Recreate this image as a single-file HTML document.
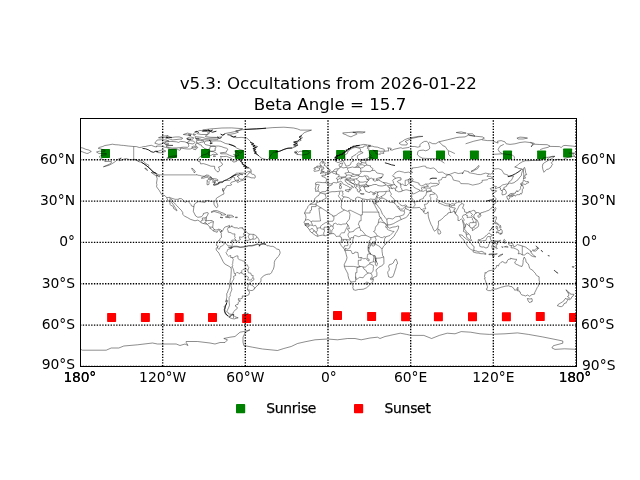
<!DOCTYPE html>
<html lang="en"><head><meta charset="utf-8"><title>v5.3: Occultations from 2026-01-22</title>
<style>html,body{margin:0;padding:0;background:#fff;}body{width:640px;height:480px;overflow:hidden;}svg{display:block;will-change:transform;}text{font-family:"DejaVu Sans","Liberation Sans",sans-serif;fill:#000;}.t{font-size:16.67px;text-anchor:middle;}.l{font-size:13.89px;}.e{letter-spacing:-0.3px;}.g{letter-spacing:-0.25px;stroke:#000;stroke-width:0.25px;}</style></head><body>
<svg width="640" height="480" viewBox="0 0 640 480">
<rect x="0" y="0" width="640" height="480" fill="#fff"/>
<defs><clipPath id="ax"><rect x="80" y="118.4" width="496" height="248"/></clipPath></defs>
<g clip-path="url(#ax)">
<rect x="101.00" y="148.90" width="9.00" height="9.00" rx="0.7" fill="#008000"/>
<rect x="168.00" y="149.00" width="9.00" height="9.00" rx="0.7" fill="#008000"/>
<rect x="201.00" y="149.00" width="9.00" height="9.00" rx="0.7" fill="#008000"/>
<rect x="235.00" y="150.00" width="9.00" height="9.00" rx="0.7" fill="#008000"/>
<rect x="268.90" y="150.00" width="9.00" height="9.00" rx="0.7" fill="#008000"/>
<rect x="302.10" y="150.00" width="9.00" height="9.00" rx="0.7" fill="#008000"/>
<rect x="336.10" y="150.00" width="9.00" height="9.00" rx="0.7" fill="#008000"/>
<rect x="369.00" y="150.00" width="9.00" height="9.00" rx="0.7" fill="#008000"/>
<rect x="403.00" y="150.50" width="9.00" height="9.00" rx="0.7" fill="#008000"/>
<rect x="436.00" y="150.50" width="9.00" height="9.00" rx="0.7" fill="#008000"/>
<rect x="469.90" y="150.50" width="9.00" height="9.00" rx="0.7" fill="#008000"/>
<rect x="503.00" y="150.50" width="9.00" height="9.00" rx="0.7" fill="#008000"/>
<rect x="537.10" y="150.50" width="9.00" height="9.00" rx="0.7" fill="#008000"/>
<rect x="563.10" y="148.50" width="9.00" height="9.00" rx="0.7" fill="#008000"/>
<rect x="107.10" y="313.00" width="9.00" height="9.00" rx="0.7" fill="#ff0000"/>
<rect x="140.90" y="313.00" width="9.00" height="9.00" rx="0.7" fill="#ff0000"/>
<rect x="174.70" y="313.00" width="9.00" height="9.00" rx="0.7" fill="#ff0000"/>
<rect x="208.00" y="313.00" width="9.00" height="9.00" rx="0.7" fill="#ff0000"/>
<rect x="242.10" y="314.00" width="9.00" height="9.00" rx="0.7" fill="#ff0000"/>
<rect x="333.00" y="311.00" width="9.00" height="9.00" rx="0.7" fill="#ff0000"/>
<rect x="367.10" y="311.90" width="9.00" height="9.00" rx="0.7" fill="#ff0000"/>
<rect x="401.10" y="312.20" width="9.00" height="9.00" rx="0.7" fill="#ff0000"/>
<rect x="433.90" y="312.20" width="9.00" height="9.00" rx="0.7" fill="#ff0000"/>
<rect x="468.00" y="312.20" width="9.00" height="9.00" rx="0.7" fill="#ff0000"/>
<rect x="501.90" y="312.20" width="9.00" height="9.00" rx="0.7" fill="#ff0000"/>
<rect x="535.80" y="312.00" width="9.00" height="9.00" rx="0.7" fill="#ff0000"/>
<rect x="569.00" y="312.90" width="9.00" height="9.00" rx="0.7" fill="#ff0000"/>
</g>
<g clip-path="url(#ax)" fill="none" stroke="#000" stroke-linejoin="round"><path stroke-width="0.42" d="M309.8 204.3L316.1 204.3L316.1 206.6L311.5 206.6L311.5 210.1L310.1 210.7L310.1 213.0L304.6 213.0M316.1 204.3L316.1 202.9L321.1 201.1L323.0 199.8L326.3 198.2L325.7 196.2L325.0 194.0M316.1 204.8L321.4 208.0L329.7 213.3L329.7 213.9L332.4 215.1L332.5 216.2L333.9 216.0L336.0 215.5L338.3 213.6L344.5 210.0L341.8 208.6L341.1 206.2L341.6 205.2L341.4 203.5L341.6 200.7L341.1 200.8L340.4 198.3L339.4 197.6L338.3 195.8L339.3 194.6L339.4 192.8L339.8 191.6M341.1 200.8L342.2 199.8L342.2 198.7L343.8 197.5L343.8 196.7M362.7 198.9L362.0 200.8L362.4 202.2L362.4 212.1L362.4 214.8L361.1 214.8L361.1 215.5L350.0 210.1L348.7 210.7L347.6 211.3L344.5 210.0M362.4 212.1L378.8 212.1M361.1 215.5L361.1 220.8L359.6 220.9L358.3 224.5L359.0 224.9L359.6 226.7L359.6 227.4L360.7 230.0L360.4 230.4L361.3 230.4L362.9 231.7L365.8 235.4L368.0 236.3L370.6 237.6L372.1 237.4L374.8 236.6L377.5 236.1M377.5 236.1L376.6 234.8L375.8 233.2L373.5 231.5L375.0 230.6L375.3 227.8L376.2 225.9L377.7 224.9L378.3 222.7L379.0 219.0L381.2 217.6M378.3 222.7L380.2 221.9L381.7 222.3L384.2 223.0L386.4 225.2L387.4 224.9M386.4 225.2L385.6 226.6L385.6 227.2L387.1 227.3L387.6 226.6M387.1 227.3L387.2 229.2L388.6 230.0L392.8 231.4L394.1 231.4L390.0 235.5L385.9 236.8L385.7 237.0L384.2 236.6L382.4 237.7L380.5 237.4L378.8 236.3L377.5 236.1M385.7 237.0L384.5 239.0L384.5 243.6L385.2 244.7M374.8 236.6L375.5 238.1L376.2 239.8L375.5 240.9L374.8 242.0L374.7 243.8L379.8 246.5L379.9 247.2L382.0 248.8M370.6 237.6L371.1 239.4L369.3 240.7L368.8 243.1L368.8 244.3L370.0 243.8L374.7 243.8M368.8 244.3L368.2 246.0L368.0 246.1L368.4 248.5M370.0 243.8L370.5 245.6L369.9 246.9L369.1 248.5M368.0 246.1L370.0 245.7L370.5 245.6M370.7 254.2L373.3 255.4L374.8 255.5M375.7 258.3L377.3 258.2L380.2 258.0L383.7 256.9M375.7 258.3L375.5 261.0L377.5 262.9L377.3 264.4L376.6 266.0L375.3 264.9L375.5 262.4L373.7 261.7L373.3 261.0L373.5 259.6L373.9 257.6L373.3 255.4M373.7 261.7L369.6 262.8L369.9 263.9L371.1 264.4L373.3 265.4L373.5 266.5L373.2 268.6L373.3 270.0L372.6 271.7L371.1 273.3L372.1 275.5L372.0 278.1L370.7 277.9L370.4 279.3L371.1 280.0L372.2 279.3L372.0 278.1M372.2 279.3L373.3 279.4M371.1 273.3L368.5 273.0L366.6 272.2L366.2 270.6L364.1 269.3L362.9 266.9L365.2 267.2L367.7 265.1L369.9 263.9M368.5 273.0L365.2 274.9L363.1 277.8L359.7 277.3L356.5 279.5L355.6 276.6L355.6 272.7L356.9 272.7L356.9 267.6L360.2 266.6L361.8 266.5L362.9 266.9M344.3 266.2L347.3 266.4L353.5 266.4L357.5 267.1L360.2 266.6M350.7 281.8L352.0 281.9L355.6 281.5L355.6 276.6M365.2 283.2L366.6 282.1L368.4 282.5L368.2 283.7L366.9 284.6L365.6 284.1L365.2 283.2M360.2 266.6L358.3 264.7L358.3 260.3L361.1 260.3L361.1 257.4L358.6 257.8L358.0 252.5L354.9 252.0L354.2 253.4L352.2 253.6L350.9 250.5L345.9 250.5L344.9 250.8M344.8 250.3L345.9 248.7L345.4 248.5L344.5 249.3M361.1 257.4L362.9 258.4L363.8 258.8L365.5 258.4L367.1 259.6L368.0 260.9L369.1 260.9L369.1 259.1L367.1 258.7L367.4 255.5L367.8 254.1L370.4 253.8M345.4 248.5L347.8 249.2L349.8 247.9L350.3 245.4L352.4 243.1L352.9 239.4L353.6 237.6L353.6 236.3L354.9 235.4L358.9 236.8L361.6 235.4L365.8 235.4M343.3 247.8L344.3 247.2L344.5 245.7L345.9 245.7L347.8 245.6L348.0 244.2L347.2 242.4L348.0 241.2L346.3 240.6L346.2 239.4M341.5 241.0L343.6 241.0L343.6 239.4L346.2 239.4L350.2 240.1L350.3 239.4L350.9 237.6L353.6 237.6M341.5 239.2L343.6 239.4M350.3 239.4L348.7 237.0L348.0 235.2L348.1 233.9L349.4 232.1L347.3 228.8L349.5 228.6L348.7 226.6L348.5 225.6L348.1 224.9L347.4 224.4L347.6 225.3L347.0 227.2L345.8 229.4L344.3 232.8L342.6 232.8L341.5 233.0L340.1 234.4L339.8 235.8M347.4 224.4L346.7 223.5L345.8 223.9L342.7 224.1L341.1 224.8L338.7 224.1L337.5 224.5L335.6 223.2L333.6 223.8L333.0 226.3L333.4 228.6L331.9 230.0L331.7 233.6M346.7 223.5L346.6 222.6L349.4 219.1L350.0 214.3L348.7 210.7M349.4 232.1L351.1 231.9L353.6 231.4L354.3 230.0L357.9 227.8L359.6 227.4M333.9 216.0L333.9 219.1L333.0 221.2L329.8 221.3L328.3 221.9L328.7 223.5L330.6 224.9L331.3 226.0L333.0 226.3M331.3 226.0L329.4 227.2L329.2 227.2L329.1 228.1L330.2 230.0L330.2 233.9M329.2 227.2L327.8 227.1L324.1 227.2L324.1 229.3L324.6 231.1L323.6 233.0L324.1 235.4M328.0 227.2L328.6 228.6L328.7 230.7L328.8 232.8L329.7 234.0M328.3 221.9L325.2 222.8L323.2 224.2L321.9 224.9L320.7 226.1L320.4 228.1L321.7 229.0L324.1 229.3M320.4 228.1L319.5 227.8L317.0 228.3L317.4 230.8L316.3 231.9L316.4 233.6L317.8 234.4L317.7 236.3M316.3 231.9L315.0 232.2L314.9 230.8L313.8 230.7L313.3 231.8L312.2 232.9M313.8 230.7L313.4 229.9L312.6 228.6L310.9 228.8L309.7 230.0M317.0 228.3L316.6 227.2L315.6 225.3L313.3 225.9L312.3 225.3L309.1 224.9L309.1 226.3L307.3 227.2M309.1 224.9L305.0 225.4M312.3 225.3L312.3 224.5L311.2 222.0L309.4 220.1L308.0 219.5L305.3 220.2M304.9 223.7L307.3 223.4L309.0 223.8L307.3 224.2L304.9 224.4M311.2 222.0L312.0 221.0L314.9 221.2L320.4 221.0L320.7 219.9L320.3 219.7L318.9 208.0L321.4 208.0M133.7 146.5L133.7 159.3L136.4 159.6L138.6 161.2L139.9 160.4L142.0 160.3L144.1 161.8L146.1 163.9L148.8 165.1L148.6 166.6M158.5 174.9L196.8 174.9L196.8 174.3L197.5 175.2L199.9 175.4L201.9 176.1L204.7 176.3L206.1 175.9L211.2 177.8L211.6 178.3L213.0 179.0L214.3 180.0L214.5 183.2L214.3 183.8L213.5 184.3L214.3 184.9L217.8 184.0L219.2 183.3L219.0 182.7L219.8 182.3L222.6 181.9L224.0 180.8L225.1 180.4L229.5 180.4L230.5 179.8L231.1 178.7L232.7 177.0L233.9 177.2L234.6 177.5L234.6 179.2L235.1 180.1L235.7 180.5M166.7 197.6L170.0 197.3L169.8 197.6L175.1 199.3L178.9 199.3L178.9 198.6L181.3 198.6L183.3 200.1L184.0 201.5L185.8 202.4L186.8 201.3L188.3 201.3L189.5 202.9L190.9 204.5L191.5 206.0L194.1 206.7M201.0 222.4L201.0 221.5L201.7 220.2L203.3 220.2L202.1 218.7L202.6 218.6L202.6 217.9L205.1 217.9L206.3 216.9M205.1 217.9L205.1 220.5L205.5 220.5M206.5 220.8L205.1 222.6L204.8 222.6L203.9 223.5M204.8 222.6L206.1 223.2L207.0 223.9M207.7 224.5L208.5 223.4L209.8 223.2L210.9 222.3L213.4 221.7M209.9 227.1L211.3 227.1L212.7 227.4M213.8 231.2L213.8 229.9L214.2 229.2M221.4 230.4L221.5 231.5L220.7 232.5M229.2 215.3L229.1 216.8L229.1 217.6M229.8 226.1L228.4 227.1L227.4 229.6L228.1 230.8L228.2 232.2L231.4 232.8L232.4 234.0L235.0 233.9L234.6 236.2L235.3 237.7L234.6 238.5L235.4 239.2L235.8 240.7M235.8 240.7L237.8 241.4L239.8 239.8L240.6 239.4L239.8 239.0L239.5 236.8L241.5 237.3L244.0 236.2L244.4 235.2M244.4 235.2L243.4 234.3L243.8 233.2L244.9 232.6L244.4 232.1L245.3 230.7M244.4 235.2L245.5 235.5L245.3 236.2L246.0 237.0L245.5 239.2L246.7 240.6L248.1 240.3L249.5 239.8L250.2 239.8M249.3 234.1L249.1 235.1L248.2 236.1L248.6 237.7L250.2 239.8M250.2 239.8L251.0 239.6L252.2 239.0L252.8 239.2M253.6 234.5L253.0 235.5L253.3 237.6L252.8 239.2M252.8 239.2L254.3 239.2L255.5 239.0L256.8 236.9M235.8 240.7L235.6 240.1L231.8 240.1L231.7 240.9L232.8 241.6L231.6 241.6L231.6 242.7L232.4 244.1L231.7 248.2M231.7 248.2L230.6 247.6L231.4 246.1L227.6 245.7L226.5 244.1L224.3 242.5M224.3 242.5L222.9 241.8L221.4 241.8L220.5 241.2L219.4 240.5M224.3 242.5L223.8 244.5L222.3 246.0L220.5 246.5L220.0 247.6L219.2 249.3L217.6 248.3L217.4 247.1M231.7 248.2L227.6 249.6L227.1 251.4L226.0 252.6L227.4 255.1L228.5 256.2L230.7 255.5L230.7 257.6L232.1 257.5M232.1 257.5L233.3 259.6L232.9 261.1L232.7 263.5L232.2 264.4L232.9 265.1L232.2 266.5M232.2 266.5L231.0 267.7M232.2 266.5L233.1 268.6L233.6 270.0L234.0 272.0L234.4 273.8L235.4 273.8M232.1 257.5L233.3 257.6L236.2 256.0L238.0 255.9L237.9 258.5L239.3 259.6L241.5 260.3L242.9 261.0L244.6 261.4L245.2 264.9L247.5 264.9L247.8 266.2L248.8 267.5L248.1 269.7L247.8 270.1M247.8 270.1L246.6 269.0L243.0 269.4L241.8 270.6L241.7 273.1M241.7 273.1L240.0 272.7L239.4 273.8L238.2 272.8L236.8 272.4L235.4 273.8M235.4 273.8L235.7 275.5L233.6 276.2L233.9 278.9L232.2 281.7L231.6 283.7L230.9 285.8L231.6 287.9L231.8 289.7L230.9 292.0L230.0 294.1L230.3 295.7L229.1 297.5L229.1 300.3L229.2 303.0L229.5 305.1L228.8 307.2L227.4 310.2L226.7 312.0L228.4 312.7L228.8 314.0L233.8 314.5M233.5 314.9L233.5 318.0M247.8 270.1L248.4 272.8L250.8 273.1L251.4 275.3L253.2 275.5L252.8 277.7M252.8 277.7L251.0 280.0L250.3 280.0L247.3 279.9L248.6 277.3L245.3 275.5L241.7 273.1M252.8 277.7L254.0 278.5L253.9 279.9L251.1 281.4L248.6 284.0M248.6 284.0L247.8 287.2L247.5 289.1M248.6 284.0L250.8 284.8L251.4 285.0L252.8 285.8L254.4 287.3L254.3 288.8M385.2 185.2L386.7 185.1L387.9 185.8L388.2 187.2L389.7 187.7L389.2 189.5L389.7 191.1L386.4 191.3L383.1 191.7L380.4 191.7L378.6 191.7L378.4 192.5L377.5 192.9M383.1 182.6L386.6 182.9L388.6 183.7L391.9 184.7L395.0 184.7M391.9 184.7L392.2 185.8L390.0 185.5L387.9 185.8M390.0 185.5L390.8 186.7L392.1 188.0L392.1 188.8M389.7 187.7L392.1 188.8L394.1 187.8L395.4 189.5M386.4 191.3L384.8 194.5L381.5 196.4L378.7 197.9L377.2 197.3L376.9 199.0L376.2 201.8M381.5 196.4L382.0 198.1L379.0 199.0L380.4 200.4L379.7 201.1L377.7 202.2L376.2 201.9M376.1 201.8L375.2 199.3M376.4 196.8L377.5 196.4L378.4 195.3L377.6 194.7M382.0 198.1L383.7 198.4L385.9 199.6L389.6 202.2L392.1 202.3L393.7 200.9L394.1 201.1M392.1 202.3L393.4 202.4L394.7 203.1M389.7 191.1L390.6 192.8L391.5 194.0L390.6 195.6L391.5 196.9L393.7 198.6L395.0 201.1M387.0 219.8L387.7 218.4L389.3 218.4L392.8 219.0L395.5 216.8L399.6 216.2L403.8 214.8L404.7 212.1L404.1 211.1L400.5 210.7L399.1 209.2M399.6 216.2L401.2 219.5M404.1 211.1L404.9 209.1L405.7 208.1M398.0 208.3L398.7 208.6M402.3 190.9L405.4 189.9L406.9 189.8L409.7 190.7L412.3 192.0L412.3 193.4L411.5 195.1L411.9 196.2L411.4 198.0L413.1 199.1L411.9 201.3L414.1 201.9L415.2 204.9L414.5 205.8L412.9 207.7M414.1 201.9L419.3 201.3L419.5 199.8L423.5 198.4L423.8 196.8L425.8 195.4L426.6 192.2L431.2 191.1M412.3 193.4L413.8 193.9L416.9 192.4L419.6 190.9L421.4 191.1L423.5 191.3L424.7 190.6L426.5 189.6L426.6 191.8L429.0 190.8L431.2 191.1M422.0 209.7L422.8 208.9L425.8 208.8L425.1 207.0L424.4 204.4L427.1 204.0L429.1 201.2L430.6 199.7L430.8 197.6L430.0 196.7L430.0 194.6L434.1 194.2L435.2 193.5M431.2 191.1L432.6 192.0L435.2 193.5L436.7 195.1L437.5 197.3L436.4 199.3L439.6 200.8L438.4 202.7L442.8 204.6L445.1 205.6L449.4 206.0L449.4 204.0L446.5 203.8L443.7 202.6L439.6 200.8M449.4 204.0L450.5 204.8L451.7 203.5L454.2 204.1L454.9 205.3L451.9 205.6L450.5 204.8M454.2 204.1L457.5 202.2L460.3 201.9L462.1 203.5M449.4 206.0L450.5 206.3L451.7 206.6L451.7 207.5L455.3 208.0L455.0 209.3L453.7 209.9L454.3 210.8L455.6 213.1L455.2 213.9M449.4 206.0L449.5 206.9L450.3 207.7L449.4 208.6L450.3 210.4L450.6 212.6M455.6 213.1L456.5 210.8L458.3 207.7L459.2 205.6L462.1 203.5L464.0 204.5L462.5 208.2L464.3 209.2L464.7 212.0L467.3 212.6L465.9 214.4L463.0 215.3L462.3 216.9L464.3 219.9L463.3 221.6L464.7 224.5L465.2 226.1L464.1 228.2M465.9 214.4L466.5 215.5L467.4 215.4L467.2 217.7L468.7 217.3L471.2 217.2L472.4 218.4L472.4 219.9L473.5 220.9L472.9 222.7L469.9 222.7L469.1 223.7L469.8 226.3M465.9 233.6L467.3 234.5L468.7 233.9M472.9 222.7L476.1 222.1L476.1 220.4L475.0 219.0L472.9 217.0L471.2 215.7L472.5 214.6L471.8 213.7L468.8 211.5L468.1 213.2L467.3 212.6M468.8 211.5L471.2 211.3L473.2 210.3L475.0 210.8L475.0 212.1L476.8 212.7M476.1 222.1L476.1 225.3L473.9 226.3L474.3 227.4L471.9 228.0M479.0 239.6L479.6 241.0L482.0 241.0L483.7 240.5L485.8 240.5L486.4 238.8L487.7 236.5L490.0 236.6M522.3 246.0L522.3 254.9M449.0 174.6L452.0 176.4L453.4 180.1L459.4 181.4L460.8 183.6L468.3 183.8L472.7 185.1L478.9 183.8L482.2 182.2L482.0 180.4L487.3 179.8L488.6 178.6L492.9 178.2L490.6 176.4L487.1 176.4L488.8 173.8M449.0 174.6L454.8 172.4L458.3 173.5L463.4 172.8L462.1 173.9L464.3 170.6L468.8 171.7L468.9 172.7L475.4 173.9L477.6 174.5L480.7 174.6L485.5 173.1L488.8 173.8L490.3 174.2L492.2 173.4L493.5 169.9L494.6 169.0L498.3 168.6L501.6 169.9L503.7 173.2L503.8 173.8L507.9 175.0L508.4 176.7L513.6 175.9L511.4 180.3L508.9 181.8L508.5 183.3L507.9 184.0L506.7 184.0L504.4 184.5L502.8 184.8L499.4 187.3M501.7 190.5L503.0 189.6L504.9 189.2M449.0 174.6L446.2 175.7L445.8 177.5L442.4 177.4L441.4 179.7L438.5 180.4L439.3 182.9L438.5 184.5L435.5 185.9L434.0 185.9L431.3 186.6L429.5 188.1L431.2 189.4L431.2 191.1M449.0 174.6L445.4 174.1L442.4 172.1L438.2 172.4L435.3 169.0L433.4 167.9L430.0 168.6L429.1 168.0L426.1 167.7L425.7 166.2L423.1 166.1L417.8 167.4L412.0 168.0L412.6 168.7L410.3 170.2L412.3 172.1L412.7 172.4L410.0 172.8L408.7 172.1L404.7 172.7L403.4 172.1L399.4 171.2L398.0 171.3L395.1 172.7L394.7 173.8L392.5 175.7L393.2 176.5L394.4 176.7L395.5 178.6M400.3 184.9L402.4 184.1L404.5 185.5L405.2 185.5L405.2 180.4L408.7 179.6L412.0 181.2L416.2 182.3L419.1 183.2L418.9 184.5L421.7 185.9L423.1 185.4L425.7 184.1L429.3 184.0L430.2 182.9L432.3 183.4L437.1 183.4L438.5 184.5M405.2 185.5L406.7 185.5L408.7 183.4L410.7 184.3L410.8 185.4L413.3 185.8L414.0 187.3L416.5 188.7L419.8 190.0L419.6 190.9M421.4 191.1L422.1 189.8L421.3 187.8L423.5 187.0L425.1 186.9L423.5 188.0L426.8 188.1L429.5 188.1M425.1 186.9L428.6 186.2L426.8 185.2L425.7 184.1M315.7 184.7L316.7 184.4L318.9 184.7L319.5 185.1L318.5 185.9L318.4 187.7L317.7 187.8L318.4 189.8L317.8 191.1M325.5 182.6L327.0 183.3L329.0 183.6L330.3 183.8L332.4 184.0M338.3 182.1L337.6 181.5L337.5 180.3L337.6 179.2L336.4 178.7L336.4 178.2L337.6 177.1L338.5 176.8L339.3 174.9L336.8 174.2L336.0 174.2L334.6 173.5L333.8 173.5L331.5 172.0M332.7 171.6L333.9 171.6L334.9 171.4L336.1 172.1L336.3 172.4L336.8 173.1L336.4 173.4L337.0 173.8L336.8 174.2M336.4 173.4L336.0 174.2M336.3 172.4L336.5 170.9L337.2 170.9L337.8 170.3L337.9 169.1M339.8 166.8L341.1 166.9M347.7 168.1L347.4 169.5L348.3 170.6L348.7 172.1L348.4 172.3L345.9 173.0L344.8 173.1L345.2 173.8L347.0 175.2L345.9 175.9L345.9 177.0L344.8 176.8L342.5 177.0L341.2 177.0L339.7 176.8L338.5 176.8M341.2 177.0L341.2 177.6L342.5 177.8M337.6 179.2L338.9 179.2L339.6 178.5L340.4 179.3L340.8 178.5L341.9 178.6L342.5 177.8L344.7 177.6L346.9 178.3L346.7 179.3L346.9 179.6M347.0 175.2L348.7 174.9L351.3 175.4L351.6 176.3L350.2 177.8L346.9 178.3M348.4 172.3L350.5 172.7L351.3 173.0L353.9 174.2L351.7 175.0L351.3 175.4M353.9 174.2L355.6 174.6L359.1 174.8L361.1 172.7L360.5 171.4L360.9 169.8L360.4 168.1L359.4 167.4L355.3 167.4M359.4 167.4L359.3 166.8L357.3 166.3M360.4 168.1L363.1 167.7L364.6 166.2L364.6 165.7L366.9 165.1L366.2 163.5L365.8 163.2L365.8 161.4L366.6 160.6M357.0 165.2L362.3 164.7L364.6 165.7M361.6 162.6L363.8 162.8L365.8 163.2M366.9 165.1L370.6 165.8L370.4 166.9L373.1 168.7L371.8 170.6L370.0 171.7L365.2 171.3L360.5 171.4M371.8 170.6L374.8 170.3L376.9 173.0L380.4 173.6L383.2 174.1L382.8 176.3L380.6 177.5M359.1 174.8L358.6 175.7L359.6 176.3L362.3 176.7L364.6 175.9L366.6 175.9L368.2 176.4L369.3 178.5L366.9 179.7L368.9 180.1M364.6 175.9L366.7 177.9L366.9 179.7M351.6 176.3L353.9 176.5L356.2 175.6L358.6 175.7M359.6 176.3L357.2 178.6L356.0 178.8L354.0 179.2L351.4 179.0L350.7 178.3L350.2 177.8M356.0 178.8L357.5 180.1L359.0 181.0L359.3 181.5L359.7 182.1L363.1 182.2L365.2 181.6L367.4 182.1M359.3 181.5L358.9 183.2L358.9 184.1L359.7 185.5L361.8 185.2L364.2 184.9L366.6 184.5M364.4 184.9L364.6 185.5L363.8 186.3M359.7 185.5L358.3 185.8L356.9 186.0L355.8 187.8M356.9 186.0L356.2 185.2L356.4 184.5L355.0 183.7L354.7 184.7M356.4 184.5L358.9 184.1M346.7 179.7L349.1 179.7L349.6 178.7L350.7 178.3M354.2 180.4L351.4 180.1L349.8 180.1L350.0 181.5L352.2 183.2L353.5 183.8L354.5 182.5L354.7 181.5L354.2 180.4L354.0 179.2M343.4 161.1L344.3 160.1L345.2 158.4L344.8 157.4L344.7 154.9L347.3 153.5L348.0 151.3L350.6 149.4L352.8 148.0L356.2 147.3L357.3 146.9L360.7 147.6L363.4 147.3L363.8 146.1L366.6 145.8L368.0 147.1L367.8 147.3L370.4 146.3M356.2 147.3L360.4 148.8L360.5 150.8L361.2 151.7M367.8 147.3L367.3 148.4L369.3 149.1L368.0 150.2L369.5 151.9L369.1 153.1L370.0 153.9L371.4 155.7L366.3 159.0M317.9 166.6L316.8 167.3L317.9 167.9L319.3 167.9"/><path stroke-width="0.45" d="M79.0 348.5L80.0 349.0L82.5 350.2L106.2 350.2L111.2 348.0L118.8 348.0L123.8 346.0L137.5 344.8L152.5 343.0L157.5 344.0L162.5 344.0L176.2 344.0L180.0 345.5L185.0 344.0L188.0 345.5L186.2 342.5L186.2 341.5L197.5 341.5L210.0 343.0L215.0 344.0L220.0 342.5L225.0 342.5L227.5 339.8L223.8 338.5L230.0 337.2L235.0 336.5L240.0 332.2M240.0 332.2L243.8 331.5L247.5 330.5L250.0 329.8L247.0 331.5L245.0 333.0L243.0 337.2L243.0 342.2L243.8 345.5L252.5 347.2L262.5 349.0L277.5 350.5L283.8 348.5L291.2 346.5L297.5 343.5L305.0 341.8L315.0 339.8L327.5 339.0L337.5 339.8L347.5 338.5L355.0 338.5L361.2 339.8L370.0 338.0L377.5 337.2L380.0 338.5L385.0 336.5L390.0 335.5M390.0 335.4L400.3 333.2L406.6 334.4L411.2 335.4L423.8 335.4L431.6 338.5L439.4 335.4L447.2 333.2L455.0 333.8L461.2 331.6L470.6 332.2L480.0 333.8L489.4 334.4L505.0 333.8L517.5 332.9L528.4 334.4L542.5 336.9L555.0 339.4L562.8 341.0L562.8 343.2L553.4 345.7L551.9 347.9L555.0 349.4L564.4 348.8L578.4 349.4M237.2 157.1L232.2 156.3L229.5 155.3L226.7 153.9L223.3 153.8L220.8 153.8L220.3 152.8L224.7 152.4L226.3 152.2L226.7 150.6L228.1 149.5L226.7 148.3L224.0 147.6L221.2 146.5L218.5 146.0L215.0 146.1L211.6 146.0L208.8 145.4L205.4 144.6L204.3 143.2L204.7 141.5L206.8 140.9L210.9 140.7L212.3 141.1L215.0 140.9L216.7 140.9L220.5 141.1L222.6 142.1L225.4 143.5L229.5 144.3L232.9 145.3L235.0 146.9L237.1 148.3L240.5 149.7L243.3 150.5L242.6 151.7L240.4 153.0L237.1 151.2L234.6 150.9L236.4 152.8L238.4 153.7L239.0 155.3L237.1 155.6L233.6 154.5L235.7 155.9L237.2 157.1M168.9 147.5L172.3 148.0L176.4 147.9L179.2 147.7L183.3 147.2L187.5 147.3L188.8 146.2L188.8 145.7L188.2 143.2L184.7 141.8L180.6 141.4L178.5 142.4L176.4 141.8L170.9 141.4L166.1 142.0L164.0 143.6L166.8 144.0L168.9 143.9L165.4 144.6L166.1 145.1L173.0 145.4L166.8 145.8L166.1 146.2L167.5 147.1L168.9 147.5M158.8 144.4L162.0 143.9L163.4 142.5L166.8 141.1L169.1 141.1L166.1 140.0L161.3 139.8L157.2 140.0L155.8 141.8L154.8 143.2L158.8 144.4M166.8 138.1L172.3 139.9L173.7 139.8L179.2 139.2L182.0 139.1L182.6 138.0L179.2 136.9L175.1 137.0L172.3 137.4L168.2 137.0L166.1 137.7L166.8 138.1M158.5 137.7L164.0 136.0L168.2 135.6L165.4 137.3L159.9 138.0L158.5 137.7M186.8 138.4L190.2 136.9L193.7 137.7L193.0 139.1L189.5 139.1L186.8 138.4M187.5 142.1L190.2 140.6L193.7 141.1L195.0 142.5L193.0 144.0L190.2 143.5L186.8 142.8L187.5 142.1M196.4 140.7L199.9 140.3L203.7 140.7L203.3 142.1L201.2 142.2L198.5 143.2L196.4 142.5L196.4 140.7M217.8 139.6L218.5 138.4L216.4 138.0L210.9 138.2L205.4 138.4L202.6 137.4L199.9 137.1L195.0 136.7L195.7 138.4L200.6 139.1L201.2 139.6L206.8 139.8L212.3 139.8L217.8 139.6M216.4 137.4L220.5 137.0L224.7 134.2L224.7 133.6L230.2 132.6L238.4 130.8L242.6 128.7L231.6 127.9L221.9 128.0L210.9 128.9L204.0 129.7L202.6 130.1L209.5 131.5L209.5 132.9L208.1 134.5L206.1 135.2L205.4 136.6L210.9 137.3L216.4 137.4M195.7 132.2L199.9 130.4L206.8 131.6L208.8 133.0L206.8 134.5L201.2 134.5L197.1 133.6L195.7 132.2M183.3 134.5L187.5 133.1L191.6 134.2L188.8 135.2L183.3 134.5M193.0 133.8L195.7 134.5L195.0 135.2L193.0 134.9L193.0 133.8M195.7 138.5L198.5 138.2L199.2 139.3L196.4 139.5L195.7 138.5M191.6 147.1L193.7 146.1L196.4 146.9L195.7 147.9L193.0 147.7L191.6 147.1M208.1 154.8L209.2 153.1L209.5 151.9L210.9 151.5L213.6 151.7L216.4 153.1L217.6 154.5L215.0 154.6L213.0 154.2L210.9 155.5L208.1 154.8M213.0 156.0L215.0 155.7L215.7 156.3L213.9 156.7L213.0 156.0M239.1 173.6L242.6 174.3L242.9 174.8L240.5 174.5L239.1 173.6M201.2 178.1L203.3 178.2L205.4 177.6L207.0 177.1L208.1 178.3L210.9 178.1L211.6 178.3L211.3 177.0L209.8 176.3L208.8 175.3L206.5 175.0L205.0 176.1L203.3 176.8L201.2 178.1M207.2 184.9L208.8 184.5L209.1 183.2L208.8 181.8L210.2 180.4L210.9 179.3L208.8 179.3L207.4 180.1L206.8 181.1L207.4 181.1L207.0 183.2L207.2 184.9M211.3 179.3L213.1 180.4L213.2 181.4L212.4 182.2L214.2 182.1L214.5 183.2L215.4 182.6L215.4 181.1L215.7 180.1L217.8 181.1L217.8 179.7L216.4 179.0L214.3 178.7L212.3 178.7L211.3 179.3M213.1 184.9L214.3 185.4L215.4 185.2L217.8 184.3L219.3 183.4L217.1 183.7L215.3 184.1L213.6 184.5L213.1 184.9M218.1 182.7L220.5 182.7L222.6 182.5L223.0 181.6L221.2 181.8L219.2 182.1L218.1 182.7M194.4 173.0L195.3 171.4L194.1 170.1L193.0 168.7L191.6 168.3L192.3 169.7L193.7 171.4L194.4 173.0M157.8 152.6L155.8 151.5L158.5 151.1L161.3 150.1L164.0 150.2L165.8 151.1L163.4 152.2L160.6 152.8L157.8 152.6M166.8 158.1L169.6 156.7L170.9 156.4L174.4 155.9L177.1 155.9L175.1 156.7L173.0 157.7L171.3 158.4L168.9 158.6L166.8 158.1M371.7 243.6L372.8 242.1L374.2 242.0L375.1 242.4L375.9 243.0L374.8 244.1L374.6 245.4L373.5 246.0L372.1 245.8L371.7 244.9L371.7 243.6M368.4 247.1L369.1 248.6L368.8 250.7L370.0 252.7L371.0 254.4L370.2 254.1L368.6 252.0L368.1 250.0L368.1 247.9L368.4 247.1M374.8 255.6L375.7 257.6L376.1 259.6L376.5 262.1L375.7 261.7L375.3 259.6L375.0 257.6L374.8 255.6M408.3 180.4L409.3 178.6L410.7 178.2L412.3 178.3L413.1 179.7L412.0 181.5L410.0 182.3L408.3 182.2L408.3 180.4M471.0 171.4L473.4 171.0L474.7 170.1L477.5 168.7L479.1 166.3L478.9 165.5L477.5 166.6L476.1 168.3L474.0 169.7L472.0 170.9L471.0 171.4M370.7 159.9L372.8 159.3L373.5 158.4L371.4 157.4L369.3 158.1L370.4 159.3L370.7 159.9M228.4 247.0L230.8 247.8L233.9 246.2L237.0 246.2L240.2 247.0L243.3 246.7L245.9 246.2L248.8 245.5L251.9 245.5L255.0 244.7L257.3 243.9L259.7 244.7L259.4 245.9L260.5 244.1L263.6 243.6L265.9 243.9M228.4 247.5L230.8 248.3L233.9 246.8L237.0 246.8L240.2 247.5L243.3 247.2L245.9 246.8L248.8 246.0L251.9 246.0L255.0 245.2L257.3 244.4L259.7 245.2L259.4 246.4L260.5 244.6L263.6 244.1L265.9 244.4M320.6 192.7L319.3 192.1L318.5 191.1L317.8 191.1L315.6 191.4L315.9 189.4L315.0 189.1L315.6 187.3L316.0 185.6L315.7 183.8L315.2 183.2L316.4 182.6L317.4 182.2L319.7 182.3L322.5 182.6L323.9 182.6L325.5 182.6L325.9 182.5L326.3 181.0L326.5 179.7L326.3 178.7L325.2 177.9L325.0 177.4L324.1 177.0L322.1 176.5L321.5 175.7L323.2 175.2L325.2 175.4L325.8 175.4L325.4 173.9L326.3 173.9L326.5 174.3L328.1 174.2L330.1 173.4L330.5 172.3L331.4 172.0L332.7 171.6L333.5 170.8L334.5 169.5L335.6 169.0L337.6 168.8L339.0 168.6L339.8 168.1L340.1 167.3L339.8 166.6L339.2 165.8L339.2 164.6L339.8 163.7L342.6 162.9L342.5 163.9L342.1 164.6L342.2 165.1L341.5 165.9L341.1 166.6L341.1 166.9L342.1 167.4L343.0 168.0L344.5 167.7L346.6 167.4L346.9 167.2L347.7 168.1L350.0 167.6L352.8 166.9L353.8 167.4L355.0 167.4L355.6 167.0L356.9 166.2L357.1 165.7L356.9 164.1L357.6 163.3L359.1 162.9L360.0 163.9L361.1 163.9L361.6 162.6L361.8 161.9L360.4 161.5L360.4 160.8L362.0 160.4L363.8 160.3L366.6 160.4L369.6 159.9L368.0 159.5L367.5 158.8L365.2 159.0L362.4 159.5L359.7 159.9L358.3 159.2L357.5 158.4L357.3 157.0L357.6 155.5L359.4 154.5L361.1 153.5L363.0 152.8L362.4 152.0L361.2 151.7L358.6 152.0L357.6 152.8L357.2 153.3L356.0 154.5L353.9 155.6L352.5 156.6L352.0 156.4L351.7 157.7L351.7 158.8L353.5 159.5L354.0 160.7L352.1 161.5L351.0 162.8L350.7 164.1L349.9 165.1L347.7 165.9L345.9 166.1L345.8 165.8L345.5 165.2L345.2 164.1L344.4 162.9L343.4 161.2L342.7 159.9L342.2 161.0L341.1 161.4L339.0 162.4L337.6 162.5L335.7 161.2L335.2 160.0L335.2 159.2L334.9 158.1L334.9 157.0L336.4 156.3L338.3 155.6L340.4 154.8L342.3 155.0L342.5 153.5L343.8 152.8L345.2 151.5L347.8 149.7L349.4 148.7L350.7 148.0L352.1 147.1L354.2 146.4L356.9 145.8L359.7 145.1L360.7 145.0L363.5 144.4L365.9 144.6L367.3 145.0L370.7 145.4L368.0 146.0L369.3 146.4L372.1 146.1L374.2 146.8L377.6 147.2L380.4 148.3L383.8 149.1L384.8 150.4L383.1 151.2L380.4 151.3L376.2 150.8L373.5 150.4L372.8 150.0L374.8 151.2L375.9 152.8L375.9 153.7L379.7 154.4L380.4 154.2L379.7 153.5L380.4 153.0L383.1 153.4L383.8 153.5L383.1 152.2L385.2 151.3L387.2 150.9L388.6 151.1L388.6 150.1L388.3 148.3L387.7 147.9L390.7 148.2L391.4 149.0L390.0 149.7L392.1 150.2L394.1 149.3L396.9 148.6L401.0 147.7L402.4 148.4L403.1 148.3L407.2 147.7L409.3 147.3L410.0 146.5M80.0 147.5L82.8 148.0L85.8 149.3L89.0 150.1L91.3 151.5L89.6 152.4L88.0 153.4L86.6 153.4L84.4 152.6L82.8 152.0L81.4 151.2L80.7 152.6L80.0 152.8M576.0 152.8L573.9 153.4L572.6 153.3L573.2 154.9L575.0 156.4L571.9 156.3L568.4 157.3L565.0 158.5L562.6 159.9L558.1 159.3L555.3 159.9L553.3 159.9L552.6 161.8L551.2 162.8L552.6 164.3L551.9 165.0L550.9 167.3L548.4 169.1L546.7 169.4L543.9 172.3L543.6 171.4L542.9 169.4L542.4 166.6L542.9 163.9L544.3 162.8L548.2 160.4L551.2 159.0L553.0 157.7L554.8 156.3L552.6 156.3L549.8 157.3L548.7 158.4L546.4 157.3L543.9 157.7L541.6 159.7L540.9 160.4L535.8 160.4L533.3 160.4L528.5 160.7L525.3 160.7L522.3 161.8L518.8 163.9L516.8 165.9L514.7 167.0L517.4 167.7L518.1 168.3L520.9 168.7L522.5 169.1L522.8 170.5L522.3 171.4L521.6 173.5L521.3 175.6L519.5 177.6L518.1 179.7L516.1 181.1L514.0 182.7L511.5 183.4L509.7 183.0L508.1 184.1L506.8 185.2L506.7 186.2L504.4 187.3L503.8 187.6L503.5 188.4L504.9 189.4L506.1 191.4L506.4 192.8L505.9 194.0L504.4 194.5L502.3 195.0L502.0 193.5L502.4 191.7L502.4 190.7L500.9 190.3L500.2 189.2L500.6 188.0L499.4 187.4L497.5 187.8L495.5 188.8L495.1 188.0L496.4 186.6L494.7 186.2L493.1 187.3L490.6 188.4L490.2 188.7L491.0 189.8L492.0 190.3L492.0 191.1L494.3 190.3L496.8 190.9L496.1 191.6L493.7 192.7L492.4 194.0L492.6 194.6L493.7 195.6L494.7 197.2L496.0 198.7L496.0 199.8L494.4 200.7L496.1 201.2L495.8 202.4L495.4 203.4L494.4 203.8L493.3 205.5L492.8 206.6L492.0 207.7L490.7 208.6L489.2 210.0L488.8 210.3L486.4 211.1L485.3 211.7L484.4 211.8L482.3 212.5L480.7 212.9L480.1 214.4L479.3 212.9L477.5 212.5L476.8 212.8L475.1 213.7L474.0 215.1L473.8 216.6L474.7 218.2L476.2 219.7L477.2 220.2L478.2 222.4L478.6 223.4L478.7 225.2L478.5 225.6L478.2 226.7L476.8 227.7L475.6 228.2L474.9 229.0L473.4 230.0L472.4 230.6L472.5 228.9L472.0 228.1L470.6 227.8L469.9 226.8L469.2 225.9L467.8 225.0L467.0 223.9L466.5 223.8L465.8 224.1L465.6 225.9L465.1 227.2L464.7 228.6L464.8 229.7L465.8 230.7L466.5 232.3L467.8 232.9L468.8 233.9L470.2 235.5L470.6 236.9L470.5 238.5L471.3 239.6L471.7 240.5L471.0 240.6L470.5 240.3L468.8 239.2L467.6 238.3L466.7 236.9L466.3 234.8L466.1 233.4L465.4 232.9L464.4 231.7L463.4 231.4L463.7 230.0L463.7 227.9L463.7 225.9L463.3 223.8L462.7 221.7L462.5 219.9L461.6 219.0L460.5 219.5L459.3 220.6L457.9 220.4L458.1 218.3L457.9 216.5L457.0 215.1L456.0 214.7L455.2 213.5L454.5 211.7L453.4 211.3L452.7 212.1L451.3 212.4L449.9 212.6L449.2 212.5L447.9 213.1L447.6 214.2L446.2 215.1L445.1 215.8L442.8 218.0L441.4 219.5L439.9 220.5L438.5 221.0L438.4 223.1L438.6 224.4L438.1 225.9L437.9 228.2L437.3 228.2L436.7 229.6L435.7 230.3L434.8 231.2L434.0 230.7L433.0 228.6L432.4 226.8L431.1 224.6L429.7 221.0L429.0 219.0L428.3 216.2L428.2 214.6L428.2 213.2L428.0 211.8L427.5 212.8L425.8 213.7L424.4 213.2L423.1 211.7L424.9 210.8L423.1 211.0L422.4 210.3L422.0 209.7L421.0 209.5L420.3 208.2L419.6 207.4L416.9 207.7L413.8 207.8L412.7 207.8L411.5 207.5L409.0 207.3L406.9 207.0L406.5 205.5L405.6 204.9L403.8 205.6L402.4 205.8L401.0 205.2L399.6 204.2L398.0 202.6L397.2 201.1L395.5 200.5L395.0 201.1L394.1 201.8L394.3 202.9L395.2 204.1L396.5 205.2L397.2 205.9L397.2 207.1L398.0 207.3L398.5 206.4L399.1 207.5L399.0 208.5L399.0 208.9L400.3 209.1L402.4 209.1L403.0 208.6L404.2 207.5L405.2 206.6L405.7 206.2L405.7 208.0L406.0 208.8L408.7 209.9L410.4 211.4L409.3 213.5L408.6 214.3L407.6 216.2L405.8 217.6L404.1 218.3L402.4 219.0L399.9 220.1L396.9 221.7L395.6 222.4L393.4 223.7L390.0 224.8L387.9 224.9L387.5 224.1L387.1 222.0L386.8 219.8L386.6 219.1L385.2 217.6L383.8 215.5L382.4 214.2L381.9 212.8L381.0 210.7L380.4 209.2L379.3 208.0L378.3 206.6L376.9 204.5L375.9 203.8L376.2 201.8L375.3 204.2L374.2 203.1L373.1 201.2M375.1 199.3L375.4 199.0L375.9 198.2L376.2 197.2L376.9 195.7L377.3 194.9L377.3 193.5L377.6 192.4L377.9 192.0L376.9 192.0L375.7 191.7L374.4 192.5L373.2 192.8L372.1 192.1L370.3 191.6L370.0 192.4L368.6 192.5L367.0 191.7L365.8 191.4L365.5 190.2L364.9 189.5L364.4 188.4L364.0 188.0L364.1 187.2L365.9 186.7L368.0 186.7L369.2 186.3L368.0 185.9L369.3 185.6L371.3 185.5L372.8 184.8L374.2 184.5L376.4 184.5L378.0 185.5L379.7 185.8L381.0 186.0L382.7 185.9L385.2 185.2L385.5 184.4L384.5 183.2L382.7 182.3L381.0 181.4L380.1 180.8L379.0 180.3L378.4 179.8L379.7 179.0L380.6 178.1L382.1 177.5L380.4 177.5L379.7 177.5L378.3 178.1L376.6 178.6L375.9 178.9L376.9 180.0L378.2 180.0L376.8 180.4L375.3 181.1L374.2 181.0L372.8 179.8L374.3 179.2L374.3 178.9L372.8 178.9L371.8 178.2L370.3 178.3L369.3 179.3L368.9 180.1L367.5 181.5L366.4 182.9L365.9 183.8L366.6 184.7L368.0 185.6L366.6 185.9L365.6 186.3L364.8 186.7L364.1 187.2L363.8 186.5L363.8 186.0L363.7 186.2L361.6 186.0L361.1 186.9L360.2 187.3L359.6 186.5L359.1 187.3L359.7 188.4L359.6 189.1L361.1 190.0L361.1 190.5L360.7 190.2L359.7 190.2L360.0 191.0L359.4 191.7L359.8 192.1L358.9 192.1L357.9 191.7L357.3 190.5L357.9 189.8L357.1 189.6L356.5 188.9L355.8 187.8L355.4 187.6L354.7 186.7L354.7 185.4L354.7 184.7L353.5 184.0L352.9 183.7L350.6 182.5L348.9 181.6L348.5 180.4L347.8 180.0L347.2 180.7L346.9 179.6L344.9 179.8L345.2 180.5L345.4 181.6L346.6 182.3L347.6 183.8L350.3 184.7L351.3 185.8L352.8 186.5L353.5 187.2L353.4 187.6L351.7 186.6L350.9 187.6L351.6 188.7L350.9 189.5L350.2 190.2L349.6 190.0L349.9 189.1L350.2 188.0L349.6 187.3L348.4 186.5L347.6 186.2L346.7 185.6L344.8 184.9L344.3 184.4L343.3 184.0L342.5 183.3L342.2 182.5L341.5 181.6L340.3 181.2L339.3 181.9L338.1 182.2L336.1 183.0L335.4 182.7L334.6 182.6L333.5 182.5L333.1 182.6L332.3 183.2L332.1 183.7L332.5 184.1L331.0 185.4L329.7 185.8L329.1 186.3L328.0 187.3L327.6 188.1L328.3 189.1L327.3 189.6L326.6 190.6L325.0 191.8L324.6 191.7L321.9 191.8L320.6 192.7M393.4 179.6L395.5 178.3L398.3 177.6L401.0 177.9L401.0 180.0L398.7 180.4L398.3 181.1L397.3 181.4L398.5 182.9L400.7 183.4L400.3 184.8L401.0 185.9L400.7 187.3L401.7 188.7L402.3 191.0L401.0 191.6L398.3 191.8L396.9 190.9L395.5 190.6L395.4 189.5L395.8 188.3L396.2 187.0L397.3 186.9L396.2 186.3L395.1 184.8L393.4 183.2L393.4 181.8L392.5 180.8L393.4 179.6M498.2 256.6L500.2 254.8L503.0 254.0L501.6 255.1L499.5 256.3L498.2 256.6M488.9 254.1L492.0 253.8L494.7 254.0L497.3 253.8L494.7 254.7L492.0 254.5L488.9 254.7L488.9 254.1M492.0 255.5L494.4 256.2L493.3 256.5L492.0 255.5M503.7 239.9L504.4 239.4L505.3 240.3L504.4 241.7L504.9 243.5L504.1 242.1L503.7 239.9M504.4 246.8L506.4 246.3L508.2 247.1L506.4 247.1L504.4 246.8M501.6 246.8L503.3 246.9L502.6 247.6L501.6 246.8M532.3 250.1L534.7 250.0L536.7 248.2L537.8 248.3L537.1 250.0L535.4 251.1L533.3 250.9L532.3 250.1M535.8 246.0L537.4 246.9L538.8 248.7L538.2 248.2L536.7 246.8L535.8 246.0M541.1 250.0L542.8 251.8L541.8 251.4L541.1 250.0M547.9 255.4L549.5 255.9L548.4 255.9L547.9 255.4M554.0 270.1L557.4 272.7L558.1 273.3L556.0 272.2L554.0 270.1M572.3 266.5L574.1 266.6L573.5 267.5L572.3 267.2L572.3 266.5M524.3 257.1L525.7 259.6L526.1 262.1L528.2 263.8L528.9 265.7L529.6 268.3L530.3 268.9L532.6 270.2L533.6 271.5L535.4 273.4L535.8 274.6L537.1 275.7L539.1 276.8L539.1 280.2L539.6 281.8L538.8 284.4L538.1 286.5L537.1 287.7L536.5 289.1L535.6 290.9L534.7 292.7L534.7 294.1L531.9 294.6L529.7 296.3L527.8 295.2L527.4 295.0L525.7 296.0L523.6 295.3L523.1 295.3L521.6 294.8L520.5 293.4L520.2 291.9L518.8 291.4L518.8 290.5L518.1 289.5L517.4 290.9L516.8 290.5L517.9 288.6L517.9 287.2L516.8 288.8L515.4 290.3L514.7 290.2L514.0 288.6L512.6 287.6L511.9 286.6L509.9 286.5L508.8 285.8L505.7 286.1L503.0 286.8L500.9 287.3L498.8 288.1L496.1 289.1L493.3 289.1L490.6 290.6L488.5 290.6L486.6 289.8L486.4 288.7L487.3 288.3L487.4 286.5L486.7 284.4L485.9 282.1L485.3 280.3L484.4 278.5L485.3 278.2L484.7 276.8L484.5 276.7L484.8 274.8L485.2 272.4L485.9 273.3L486.6 272.2L488.9 270.8L491.4 270.4L493.3 269.8L495.4 268.6L496.4 267.2L496.5 265.8L497.3 265.0L498.3 266.2L498.8 264.9L499.5 263.8L500.9 262.4L502.7 261.6L503.7 262.0L504.6 263.1L505.7 262.9L506.6 262.8L507.1 261.0L508.2 259.5L509.2 259.2L510.6 259.1L510.7 258.1L511.9 258.7L514.0 259.1L515.4 259.3L516.5 259.2L516.2 260.6L515.2 261.7L514.7 263.1L516.1 264.2L517.9 264.9L519.5 265.8L522.0 266.5L522.8 264.4L523.1 262.4L523.1 260.3L523.4 259.8L523.6 258.2L524.3 257.1M527.4 298.5L529.8 299.0L531.9 298.6L532.3 300.3L531.9 301.9L530.9 301.6L530.3 302.5L529.2 302.3L528.2 301.0L527.8 300.0L527.4 298.5M565.9 289.8L567.7 291.0L568.8 293.1L569.8 292.8L570.5 294.2L573.9 294.3L573.1 296.1L571.9 296.8L570.9 298.9L569.5 299.7L568.8 299.3L569.4 297.8L567.7 296.8L567.5 296.5L568.6 295.9L568.8 294.8L568.3 293.4L567.0 291.4L565.9 289.8M565.9 298.2L566.5 299.2L568.0 298.9L568.1 299.9L567.3 300.8L566.1 302.3L566.5 302.7L564.0 303.6L563.2 305.6L561.5 306.6L559.9 306.6L558.8 306.1L557.5 305.9L557.8 304.8L559.2 303.8L560.8 302.9L562.5 301.8L563.9 300.8L564.4 299.9L565.1 298.8L565.9 298.2M459.3 234.7L462.3 235.2L463.4 236.6L465.1 238.0L466.5 239.2L467.7 239.9L468.9 240.7L470.0 241.7L470.7 243.1L471.8 244.1L472.4 245.4L473.9 246.3L474.2 246.9L473.9 248.6L473.8 250.4L472.0 250.1L470.6 249.2L468.9 247.8L467.2 245.8L466.3 243.8L464.7 242.0L464.0 240.1L462.3 238.5L460.5 236.9L459.3 234.7M472.9 251.8L474.0 250.5L475.1 250.8L477.2 251.1L477.9 251.8L480.1 251.9L480.9 251.2L483.1 251.9L484.4 253.0L485.6 253.1L485.8 254.4L483.7 253.8L480.9 253.7L478.2 253.0L476.8 253.0L474.7 252.5L472.9 251.8M478.2 239.8L479.0 239.5L480.0 240.1L481.3 239.0L483.7 238.0L485.1 236.3L486.4 235.5L487.8 234.1L488.9 232.8L490.7 234.4L492.2 235.2L491.4 236.3L490.4 236.6L490.2 237.9L490.6 239.4L491.8 241.0L490.3 241.3L489.9 243.1L488.9 244.2L488.5 245.8L487.8 247.4L485.9 248.0L483.7 246.9L482.0 247.1L479.8 246.4L479.6 244.2L478.5 242.4L478.2 241.3L478.2 239.8M492.5 249.4L493.9 250.1L493.7 247.9L494.6 246.1L495.5 248.0L496.8 249.0L497.3 248.5L496.4 247.2L496.0 245.2L497.9 243.8L495.4 243.6L493.6 244.1L493.5 242.1L494.7 241.7L497.5 241.7L499.5 241.7L500.5 240.2L498.8 241.0L496.1 241.0L494.6 240.6L493.6 241.3L493.1 242.4L493.1 243.5L492.4 245.0L491.7 246.3L492.0 247.2L492.5 249.4M508.5 243.5L510.6 243.0L512.6 243.5L513.9 246.9L515.2 246.3L517.4 244.6L521.9 245.8L525.8 247.2L528.9 249.6L531.6 251.6L530.5 251.6L532.2 254.1L534.0 255.6L535.8 256.9L533.3 256.6L530.8 255.5L529.2 253.6L527.1 252.9L525.7 254.1L524.3 255.1L522.3 254.9L520.2 253.6L518.1 253.8L519.0 252.0L518.1 250.0L515.4 248.7L513.3 247.9L511.2 247.9L511.0 246.5L512.3 245.6L509.9 245.4L508.5 244.3L508.5 243.5M494.2 216.9L496.4 216.9L496.4 219.0L495.4 220.4L495.5 222.4L497.5 223.2L498.8 224.5L498.8 225.2L496.8 223.8L494.7 223.5L494.6 222.4L493.7 222.0L493.3 220.4L493.9 218.3L494.2 216.9M500.9 228.9L502.2 230.7L502.2 233.4L500.9 234.1L501.0 232.8L500.5 234.4L498.8 233.4L498.8 232.1L496.2 232.9L496.8 231.4L498.2 230.6L499.8 230.6L500.9 228.9M500.2 225.2L501.0 227.2L500.2 228.3L499.5 227.0L500.2 225.2M496.1 226.1L497.7 226.8L497.7 229.6L496.6 228.9L496.1 227.9L496.1 226.1M489.5 230.8L491.3 229.2L492.6 226.8L492.0 228.1L490.3 230.0L489.5 230.8M495.4 207.5L496.1 208.2L495.4 210.0L494.4 212.2L493.5 210.7L494.0 208.9L495.4 207.5M477.8 215.9L478.9 214.8L480.7 214.8L480.9 215.5L479.6 217.2L478.2 217.2L477.8 215.9M522.1 185.2L522.8 185.4L523.1 186.9L523.6 188.0L522.3 189.6L522.3 191.4L522.1 193.2L520.9 194.3L520.6 193.4L519.8 193.9L519.4 194.7L518.4 194.7L516.8 194.7L516.6 195.1L515.1 196.2L514.4 194.9L512.6 194.7L512.5 194.9L510.4 195.1L508.5 195.7L508.8 194.9L510.6 193.6L512.6 193.4L514.3 193.4L515.4 193.2L515.4 192.1L516.5 191.0L517.2 190.7L516.8 191.7L518.5 191.1L519.5 190.2L520.6 188.7L520.6 187.3L520.9 186.2L521.3 185.6L522.1 185.2M521.0 185.2L522.3 184.8L521.3 184.1L522.3 183.7L525.3 184.5L527.1 183.2L528.7 182.7L528.2 181.4L526.8 181.8L525.0 181.1L523.4 179.7L523.2 181.1L522.7 182.7L521.4 182.9L520.6 183.8L521.0 185.2M508.5 195.7L509.5 196.5L509.9 197.3L509.2 199.0L508.1 199.6L507.4 199.1L507.4 197.9L506.8 197.3L506.7 196.5L507.7 196.0L508.5 195.7M511.2 195.1L513.4 195.3L513.6 195.8L512.9 196.5L511.5 196.5L511.1 197.2L510.4 196.4L510.8 195.6L511.2 195.1M524.7 167.6L525.3 170.1L525.7 172.8L526.7 174.6L525.0 174.9L524.7 177.2L525.7 177.9L524.3 178.1L523.6 179.0L523.6 177.0L523.8 174.9L523.6 172.8L523.4 170.8L523.4 169.0L524.1 167.6L524.7 167.6M438.5 228.9L439.9 230.6L440.8 232.3L440.4 233.6L439.0 234.2L438.2 233.7L438.0 232.9L437.8 231.1L438.2 229.0L438.5 228.9M320.1 173.4L322.2 173.0L323.2 172.7L324.7 172.8L326.3 172.5L328.4 172.5L329.9 172.0L329.9 171.6L329.0 171.4L329.8 171.0L330.3 169.9L329.8 169.5L328.4 169.5L328.4 169.0L328.1 168.6L327.9 167.9L326.3 167.2L326.1 166.6L325.2 165.5L323.9 165.2L324.4 164.8L325.1 163.7L325.2 162.9L323.2 162.9L322.2 163.2L322.8 162.5L323.7 161.9L323.9 161.7L321.1 161.7L320.7 162.5L320.0 163.2L320.1 164.3L320.4 164.7L320.1 166.2L321.1 165.9L321.2 165.4L321.4 166.1L321.1 166.9L321.2 167.2L323.2 166.8L323.0 167.3L324.0 167.9L323.9 168.8L323.5 169.0L322.2 169.0L321.7 168.8L321.9 169.4L321.5 169.7L322.4 170.1L321.5 170.6L320.7 170.9L321.1 171.3L322.5 171.3L323.6 171.6L324.3 171.3L323.9 171.9L322.2 171.9L321.8 172.1L321.1 172.8L320.1 173.4M317.8 166.1L319.6 166.3L320.1 167.2L320.4 167.6L319.6 168.0L319.6 169.0L319.2 170.3L319.2 170.5L316.6 171.0L314.5 171.4L313.7 170.6L314.6 169.9L315.6 169.1L313.9 168.8L314.1 168.0L314.5 167.6L316.2 167.6L316.0 167.0L316.6 166.3L317.8 166.1M294.2 152.2L297.0 150.9L298.4 152.2L300.0 151.3L302.9 151.3L305.7 150.8L307.9 151.1L309.3 152.4L308.7 153.7L306.0 154.4L302.1 155.0L299.8 154.6L296.7 154.5L297.7 153.9L297.0 153.1L294.9 153.1L297.0 152.6L294.2 152.2M342.7 132.9L348.7 132.5L352.1 132.2L355.6 132.9L356.9 134.2L353.5 135.6L351.0 136.9L347.3 135.6L345.9 134.7L343.2 133.8L342.7 132.9M352.8 132.2L358.3 131.6L365.2 132.0L362.4 133.0L356.2 132.7L352.8 132.2M399.0 143.3L401.7 144.9L406.8 145.0L407.4 143.2L405.2 141.5L407.9 140.2L412.0 138.4L418.9 136.9L422.9 136.4L418.9 136.3L413.4 137.3L407.9 138.4L404.5 139.8L402.4 141.4L400.1 142.5L399.0 143.3M211.0 212.2L213.6 210.7L214.5 210.6L217.1 210.7L219.2 211.5L221.2 212.4L223.3 213.2L224.7 213.9L225.8 214.6L224.0 215.0L220.9 215.1L221.6 214.0L219.8 213.2L217.2 212.4L215.3 211.8L213.9 211.4L213.0 212.0L211.0 212.2M225.5 216.8L228.2 216.9L227.7 215.9L226.9 215.1L229.2 215.1L231.6 215.3L232.7 215.8L233.8 216.8L231.7 217.0L230.0 217.3L229.2 218.0L228.1 217.3L225.5 217.2L225.5 216.8M220.0 217.2L222.9 217.6L221.9 217.9L220.0 217.2M235.4 217.0L237.6 217.2L237.1 217.7L235.4 217.6L235.4 217.0M246.3 176.8L248.8 176.8L251.1 177.8L253.6 177.9L254.7 178.2L255.4 177.0L255.0 175.6L253.9 174.5L252.2 174.2L250.8 173.2L251.4 171.6L249.5 172.5L248.4 174.2L246.7 175.6L246.3 176.8M151.1 172.4L155.4 173.4L157.8 175.7L155.1 175.2L151.1 172.4M144.8 168.0L146.5 168.7L147.5 170.5L145.4 169.1L144.8 168.0M345.1 190.0L346.5 189.8L349.5 189.6L348.8 190.9L348.8 191.8L347.7 191.6L345.5 190.6L345.1 190.0M339.3 185.9L340.7 185.5L341.5 186.6L341.2 188.4L340.4 188.7L339.6 188.5L339.6 186.6L339.3 185.9M341.0 183.2L341.1 184.5L340.7 185.4L339.8 184.7L339.8 183.7L341.0 183.2M360.4 193.5L364.2 193.9L362.2 194.3L360.4 193.8L360.4 193.5M372.5 194.1L373.5 193.6L375.7 193.2L374.8 194.2L373.5 194.7L372.5 194.1M98.2 148.3L99.0 147.5L102.7 146.5L104.9 145.5L108.9 144.9L112.4 144.2L115.1 144.7L118.6 144.9L121.3 145.3L123.4 145.4L128.2 146.0L133.7 146.5L136.5 146.6L139.2 147.5L141.3 147.3L143.4 146.6L145.4 146.5L148.2 145.8L151.4 145.3L153.0 146.0L155.1 146.8L156.9 146.8L156.5 146.0L160.6 146.2L165.4 147.3L169.1 148.3L169.3 149.0L172.3 149.0L176.4 148.8L178.1 149.5L179.2 150.4L180.6 149.7L179.9 148.7L182.0 148.2L184.7 148.7L187.5 149.0L190.2 149.0L192.3 148.2L193.7 149.3L195.7 149.7L196.3 148.4L197.8 147.6L197.1 146.6L195.3 145.3L195.7 143.9L197.8 143.3L199.2 144.6L201.2 144.9L201.8 146.5L203.3 147.3L204.0 148.2L206.1 149.0L207.7 149.7L209.8 148.7L210.2 146.5L213.0 146.2L215.0 146.4L216.0 147.3L215.8 148.2L214.6 149.0L215.8 150.1L213.4 151.1L211.6 151.2L209.5 150.8L209.1 151.5L208.1 152.4L207.4 153.5L206.1 154.2L203.3 154.8L201.2 155.9L199.5 157.3L198.2 158.6L197.4 160.0L198.2 161.4L199.9 161.5L200.6 163.9L203.3 163.6L206.8 164.6L210.9 166.2L214.6 166.3L214.7 169.1L216.1 170.3L217.0 171.6L218.3 171.9L219.4 170.5L219.3 168.7L218.5 167.0L220.8 166.2L222.5 164.7L221.9 163.0L219.8 161.4L220.8 159.7L221.1 157.7L220.4 156.4L223.3 156.6L226.5 156.3L228.8 157.3L231.6 158.4L231.8 159.7L232.2 161.2L233.9 162.1L236.4 161.4L238.2 159.7L239.1 159.2L241.2 161.7L242.6 163.5L244.0 165.2L246.0 166.6L248.8 167.6L250.8 169.4L251.3 170.5L249.7 171.4L247.4 171.9L245.3 173.2L241.2 173.1L236.4 173.2L235.0 174.5L232.9 175.6L231.1 177.1L230.0 177.9L231.8 176.8L234.3 175.4L237.1 174.6L239.1 174.8L239.4 175.4L237.1 176.3L238.4 177.0L238.7 177.6L239.1 178.7L240.5 179.2L242.9 179.4L244.0 177.9L244.9 177.6L245.5 179.0L243.8 180.0L240.5 181.0L237.8 182.5L236.8 181.9L237.1 181.0L239.0 180.0L237.3 180.1L235.7 180.3L235.6 181.0L232.9 181.8L231.3 182.3L230.6 183.6L231.6 184.5L231.3 185.1L229.5 185.4L227.4 185.6L226.0 186.5L225.9 187.8L224.7 188.3L224.5 189.4L223.3 191.4L223.7 192.1L224.0 193.9L221.9 194.9L220.5 195.7L219.2 196.5L217.8 197.3L216.4 198.3L215.8 200.4L216.4 201.8L217.1 203.1L217.8 205.2L217.6 206.9L216.7 207.8L215.3 206.6L213.9 204.1L214.1 202.4L212.3 201.1L210.5 201.5L208.8 200.5L206.8 200.7L204.7 200.8L205.1 202.4L203.3 202.2L201.2 201.8L198.5 201.6L197.1 202.2L194.4 204.1L193.9 206.6L193.3 211.4L195.6 215.9L197.8 217.3L201.2 216.8L203.2 215.0L203.4 213.5L206.8 212.6L208.1 212.8L208.4 213.2L207.4 215.5L206.5 216.9L206.3 219.7L205.7 220.5L207.4 220.6L209.5 220.5L212.3 220.6L213.4 221.7L213.0 224.5L212.7 227.2L213.6 228.6L215.0 230.0L217.1 229.9L218.5 229.2L220.5 229.6L221.5 230.6M221.5 230.6L220.7 232.3L220.0 231.0L218.5 230.1L217.4 231.1L217.1 232.3L215.7 231.8L213.9 231.1L213.0 230.7L211.2 228.9L209.8 228.3L209.9 227.2L208.1 225.2L207.2 224.2L204.7 223.8L201.9 223.1L199.2 221.0L197.8 220.1L195.0 220.8L190.4 219.3L187.5 217.6L184.7 216.2L182.6 214.3L182.9 212.8L181.4 210.4L178.5 207.5L177.1 205.9L175.2 204.0L173.0 201.8L171.6 199.3L169.8 198.6L170.0 200.4L171.6 202.4L173.0 204.2L174.4 206.3L175.8 208.6L177.1 210.4L176.4 210.8L175.5 209.6L173.7 208.6L173.3 206.6L170.9 205.2L169.6 204.1L170.5 203.1L168.5 201.1L167.2 199.0L166.7 197.6L164.9 195.6L162.0 194.9L160.2 192.1L159.2 190.3L157.4 188.0L156.6 186.7L156.9 184.5L156.5 183.2L157.2 178.7L156.2 175.7L158.5 176.0L159.2 177.1L159.4 175.6L158.5 174.9L156.5 173.5L153.0 172.1L151.6 170.1L148.9 167.7L146.8 165.9L144.1 163.9L141.3 162.1L139.2 161.8L135.8 160.0L133.7 159.7L129.6 159.7L126.2 158.6L124.1 159.0L122.0 160.0L118.9 160.8L120.0 158.6L121.3 158.1L117.9 159.3L116.5 160.4L115.1 161.7L113.1 163.0L109.6 165.0L106.2 166.1L103.4 166.8L105.9 165.7L109.2 164.3L111.3 162.8L111.4 161.5L108.9 161.4L104.8 161.5L104.8 159.7L101.4 159.0L100.3 157.7L99.3 157.0L100.7 155.6L104.1 154.9L106.2 154.9L106.2 153.5L103.4 153.5L100.1 153.5L98.6 153.3L96.5 152.0L99.3 151.2L102.7 151.3L105.1 151.1L104.8 150.1L102.0 149.3L98.2 148.3M235.7 137.7L232.9 137.0L230.2 135.6L227.4 134.7L234.3 133.6L238.4 132.2L235.7 130.8L242.6 129.7L252.2 129.0L261.9 128.6L272.9 127.6L283.9 127.2L293.6 128.0L297.7 129.0L300.4 130.1L311.5 130.1L307.3 131.5L304.6 132.5L302.5 134.2L300.4 136.3L302.5 137.7L300.4 139.1L301.1 140.4L297.7 141.4L297.0 143.2L297.7 145.3L293.6 146.0L296.3 146.4L292.2 148.0L286.7 148.4L282.5 150.1L278.4 151.7L273.6 152.2L271.5 154.2L270.1 156.3L268.8 159.0L267.4 159.7L265.3 159.3L261.9 158.4L259.1 156.3L257.0 154.2L255.0 151.5L254.0 149.4L255.0 147.3L257.7 146.6L253.6 145.3L252.2 143.9L250.8 141.8L248.8 139.8L246.7 138.0L241.2 137.4L235.7 137.7M221.5 230.6L222.2 231.4L223.3 229.6L224.0 228.1L224.9 227.1L225.8 226.8L228.1 226.1L229.2 225.3L229.9 225.9L229.8 226.3L228.9 227.2L229.4 227.7L230.2 227.2L231.3 226.6L231.8 225.6L231.8 226.6L233.6 227.0L234.3 227.8L237.1 227.8L238.4 228.5L239.8 227.9L242.6 227.7L241.9 228.3L244.0 229.3L244.2 230.7L245.6 231.1L247.4 232.8L249.1 234.1L251.5 234.3L253.6 234.4L255.7 235.5L256.9 236.6L257.7 237.6L259.1 239.9L259.1 241.7L258.3 242.4L260.5 242.7L261.3 243.0L261.9 243.4L263.9 243.8L266.0 244.5L267.0 245.8L268.8 245.7L270.8 246.4L272.9 246.3L275.0 247.5L276.7 249.0L279.2 249.6L279.5 250.4L280.1 252.3L279.9 253.6L279.1 255.5L277.7 256.9L276.7 258.2L275.0 260.3L274.3 262.4L274.3 264.4L274.0 266.9L273.3 269.3L272.5 270.4L271.5 272.7L270.1 274.1L268.5 274.1L266.4 274.5L264.2 275.5L262.1 277.1L261.0 278.5L261.0 280.4L260.8 281.8L259.4 282.9L258.0 285.1L256.2 286.6L254.4 288.8L253.6 289.9L252.2 290.5L250.6 290.5L248.4 289.8L247.5 289.2L247.5 290.1L249.2 291.3L249.5 292.4L248.8 294.8L246.7 295.7L244.0 296.1L242.3 295.9L242.3 298.2L240.1 299.0L238.4 298.6L238.4 300.3L240.4 301.0L239.1 301.4L238.4 302.1L238.0 304.4L236.4 304.7L235.0 305.8L237.1 307.2L237.3 308.4L235.0 310.3L233.6 311.7L232.9 313.5L233.8 314.5L232.2 314.6L230.5 315.1L230.2 316.5L228.1 316.0L226.7 315.4L225.4 314.0L224.7 312.0L224.0 309.2L225.4 308.0L223.8 306.7L226.0 305.1L226.7 303.0L227.7 300.7L226.3 300.0L226.5 298.2L226.9 297.2L226.7 293.7L227.3 293.0L228.1 290.6L229.4 287.9L229.5 285.1L229.8 283.6L230.2 280.3L230.9 277.5L231.0 274.9L231.3 270.2L231.1 267.9L229.8 266.8L228.1 265.8L226.0 264.7L224.4 263.6L223.0 261.4L221.8 258.9L220.8 256.9L219.7 254.8L219.2 253.6L218.1 252.0L216.7 250.7L216.0 248.9L217.1 247.2L217.8 246.9L218.1 245.8L217.4 246.0L216.4 245.4L216.7 243.8L217.6 242.4L217.8 241.3L218.3 241.0L219.4 239.9L220.1 238.8L221.6 237.2L221.2 234.8L221.4 233.4L220.7 232.3M233.5 315.0L233.9 315.7L235.0 316.8L238.2 317.8L236.4 318.3L234.3 318.9L232.2 318.6L230.2 317.9L228.8 317.1L230.5 316.7L231.1 315.7L232.7 315.0L233.5 315.0M226.0 300.1L226.7 300.5L226.6 302.2L225.5 301.9L226.0 300.1M244.0 313.4L246.0 313.1L248.4 313.5L246.7 314.5L244.6 314.2L244.0 313.4M319.9 193.1L320.7 192.9L323.9 193.8L325.2 194.0L327.2 193.2L329.4 192.2L332.1 191.7L334.9 191.7L337.6 191.4L341.5 191.0L343.2 191.4L342.5 192.2L342.9 193.5L342.9 194.6L341.9 195.7L343.2 196.5L343.8 196.8L346.2 197.1L348.9 197.8L350.7 199.4L352.8 200.4L354.5 200.7L355.6 199.7L355.6 198.2L357.6 197.1L359.7 197.5L361.1 198.3L362.7 198.9L365.2 199.3L368.0 199.8L369.3 199.4L370.7 199.0L372.5 199.3L375.1 199.3M372.8 201.2L373.5 203.5L374.6 204.9L375.5 207.0L376.9 209.3L377.2 210.7L378.7 212.1L379.3 215.4L379.7 216.9L381.0 217.6L382.4 220.9L383.8 222.0L385.2 223.4L386.8 224.5L387.7 225.2L387.4 226.4L387.9 226.8L389.3 228.1L390.0 228.1L392.8 227.1L395.5 226.8L397.6 226.0L398.7 226.1L398.5 228.1L398.0 229.3L396.9 231.4L395.5 233.4L394.1 236.2L390.4 239.6L388.6 241.0L386.6 243.0L385.2 244.7L384.5 245.4L383.2 246.8L382.7 248.0L382.0 249.3L382.1 251.8L382.4 253.4L382.6 255.5L383.7 256.9L383.9 259.6L383.9 262.4L384.1 263.1L383.1 264.7L381.7 265.8L379.0 267.1L378.0 268.3L376.1 269.7L376.2 271.3L376.9 272.7L376.9 275.3L376.6 276.3L374.2 277.1L372.9 278.1L373.3 279.6L372.9 281.7L370.7 283.6L369.6 285.1L366.4 287.9L363.4 289.2L361.1 289.4L358.4 289.5L355.6 290.3L353.4 289.7L353.4 289.1L352.8 287.6L353.2 286.1L351.8 283.7L350.7 281.8L348.9 279.0L348.0 275.5L348.0 274.0L346.6 271.3L345.2 268.6L344.3 266.2L344.3 264.2L344.8 263.3L346.5 259.8L347.0 257.6L346.2 254.5L345.6 252.0L344.9 250.8L344.8 250.0L344.3 249.0L343.2 247.8L341.4 245.8L340.1 243.4L341.0 241.8L341.2 241.0L341.5 239.8L341.5 238.3L341.2 237.0L340.3 236.9L339.7 236.1L337.6 236.3L336.3 236.5L335.4 235.2L334.2 233.7L332.7 233.6L331.3 233.7L329.7 234.0L328.0 234.5L327.7 234.8L325.2 235.8L323.9 235.4L322.5 235.1L319.7 235.6L317.7 236.3L315.6 235.5L313.1 233.7L312.2 232.9L310.8 232.1L309.8 230.7L309.1 229.3L308.0 227.9L307.3 227.2L306.5 226.0L305.0 225.3L304.9 223.9L303.9 222.1L305.3 220.4L306.0 217.5L305.7 215.7L305.3 214.2L304.5 213.7L304.6 212.8L306.0 210.0L306.1 209.7L307.5 208.0L308.0 206.4L309.5 204.9L310.2 204.0L312.2 203.1L314.2 201.9L314.8 200.5L314.5 199.0L315.3 197.9L317.5 196.1L318.6 195.6L319.5 193.9L319.9 193.1M395.9 258.9L397.2 261.7L397.6 263.8L396.6 264.4L396.2 266.5L396.1 267.5L395.2 270.0L394.4 272.7L393.4 275.5L392.8 276.8L390.7 277.5L388.6 276.8L388.2 274.8L387.7 272.7L387.9 271.7L389.0 270.4L389.3 268.6L388.6 266.5L389.3 264.7L391.8 264.0L393.4 262.8L394.1 261.0L395.2 259.6L395.9 258.9M410.0 146.5L414.7 146.5L417.8 147.2L420.2 146.5L419.8 144.9L421.7 142.9L424.5 141.4L426.8 141.4L428.4 142.9L429.1 145.3L429.9 148.0L428.4 149.8L425.6 150.8L423.3 150.1L419.4 150.5L417.8 151.5L417.4 154.7L419.4 156.6L422.5 158.2L425.6 158.4L435.8 158.7L441.2 160.9L444.4 163.2M422.5 158.2L422.9 161.3M428.6 142.9L429.5 142.2L432.7 143.7L435.8 143.7L438.9 141.8L447.5 139.8L456.9 137.5L460.0 137.1M438.9 141.8L441.2 143.7L442.8 145.7L445.2 146.5L446.7 148.8L448.3 150.8L450.6 151.5L453.8 153.1L454.9 153.5M448.3 151.1L448.7 154.7L450.6 156.4M456.2 132.5L461.2 131.9L466.2 133.1L461.2 133.5L456.2 132.5M467.5 133.8L472.5 133.8L475.0 136.2L470.0 135.6L467.5 133.8M460.0 137.2L465.0 136.9L468.8 135.0L475.0 136.2L482.5 136.9L484.4 138.1L481.9 139.4L473.8 141.2L465.6 143.8M481.9 139.8L487.5 140.6L492.5 140.6L495.0 141.9L498.1 143.1L497.5 141.2L501.2 140.6L505.0 141.9L506.2 143.8L510.0 144.4L515.0 143.8L520.0 142.5L525.0 141.9L530.0 142.5L533.1 143.8L531.9 145.6L531.2 146.9M503.8 144.4L500.0 146.2L498.1 149.4L499.4 151.9L502.5 153.8L492.5 154.4M502.5 153.8L507.5 154.4L512.5 155.0L514.4 156.9L514.4 158.8M516.9 138.1L520.0 137.1L525.0 137.5L527.5 138.1L523.1 139.0L518.1 139.0L516.9 138.1M530.3 142.3L534.1 143.3L534.5 144.2L532.2 145.2L531.2 147.0M534.5 144.2L539.7 144.5L547.2 144.7L550.0 146.1L548.1 147.3L543.4 148.4L540.2 149.6M550.0 146.4L559.4 146.6L561.2 147.5L563.1 145.8L565.0 145.4L572.5 146.1L576.7 146.7M568.7 153.1L574.4 153.1M547.2 157.3L554.7 156.4"/><path stroke-width="0.85" d="M165.6 138.0L168.8 137.2L171.9 137.7M194.5 132.2L196.9 131.2L198.8 133.1M202.3 131.2L207.8 130.3L212.5 132.2L216.4 131.2M208.1 129.7L210.2 130.9L212.8 130.0M220.6 134.1L222.7 135.0L224.7 134.1M230.5 135.6L233.6 136.9L236.2 136.2M209.1 140.0L211.2 141.9L210.2 143.8L212.5 143.1M228.9 144.2L232.0 145.3L235.6 146.6M217.2 136.9L219.5 138.4L221.6 137.5M186.7 138.8L189.1 140.0L190.9 139.1M188.3 134.8L190.9 135.6M507.8 176.6L512.1 175.4L515.5 173.7L519.0 171.5L521.5 169.4M486.3 201.2L489.8 200.2L493.2 199.8L494.9 200.9M142.5 148.4L145.6 148.8L148.8 150.0L151.1 151.6L153.4 152.3L155.8 151.2L158.1 151.6M334.9 157.4L337.6 156.6L336.3 155.7L339.7 155.3L339.7 154.4L342.9 154.2L342.5 153.1L345.2 152.6L344.5 151.6L347.3 150.9L345.9 150.1L349.4 149.5L348.0 148.7L351.1 148.3L350.0 147.5L353.5 147.1L352.8 146.2L356.2 146.2L356.2 145.5L359.7 145.5M335.6 161.1L337.0 160.3L334.9 159.2L337.4 158.4L334.9 157.4M222.9 181.5L224.7 180.5L226.7 179.7L228.8 178.5L230.0 177.9L231.8 176.8L234.3 175.4L236.4 174.6M223.3 191.4L222.7 189.8L223.0 188.3M156.5 173.5L153.0 171.7L151.2 169.9L148.9 167.7L146.8 165.9L144.1 163.9L141.3 162.1M226.7 303.0L225.6 305.8L224.7 309.2L224.9 312.0L226.0 314.0L228.1 316.0M257.0 154.2L254.3 153.1L256.4 152.0L253.6 150.8L255.7 149.7L252.9 148.7L256.4 147.6L252.9 146.5L255.0 145.5L251.5 144.6L253.6 143.5L250.2 142.4M257.0 154.2L258.7 155.9M297.7 145.3L293.6 144.6L297.0 143.2L293.6 142.1L297.7 141.1L299.1 139.8L301.1 138.4L299.1 137.0L301.8 135.6M292.2 148.0L288.0 148.2L283.9 149.4L279.8 151.2L275.6 151.9M245.3 129.4L256.4 128.9L266.0 128.2M429.7 179.2L432.0 178.2L434.1 178.2L436.8 178.3M384.9 162.8L387.9 163.6L391.4 164.8L395.0 165.5M239.1 159.3L241.9 160.4L240.5 161.4L242.9 162.8L241.9 163.9L244.6 165.2L243.5 166.2L246.7 166.6L245.3 167.7L248.8 168.0"/></g>
<g stroke="#000" stroke-width="1.39" stroke-dasharray="1.39 1.39" fill="none" clip-path="url(#ax)">
<line x1="80" y1="366.40" x2="576" y2="366.40"/>
<line x1="80" y1="325.07" x2="576" y2="325.07"/>
<line x1="80" y1="283.73" x2="576" y2="283.73"/>
<line x1="80" y1="242.40" x2="576" y2="242.40"/>
<line x1="80" y1="201.07" x2="576" y2="201.07"/>
<line x1="80" y1="159.73" x2="576" y2="159.73"/>
<line x1="162.67" y1="366.4" x2="162.67" y2="118.4"/>
<line x1="245.33" y1="366.4" x2="245.33" y2="118.4"/>
<line x1="328.00" y1="366.4" x2="328.00" y2="118.4"/>
<line x1="410.67" y1="366.4" x2="410.67" y2="118.4"/>
<line x1="493.33" y1="366.4" x2="493.33" y2="118.4"/>
<line x1="576.00" y1="366.4" x2="576.00" y2="118.4"/>
</g>
<rect x="80.5" y="118.5" width="496" height="248" fill="none" stroke="#000" stroke-width="1" shape-rendering="crispEdges"/>
<text class="t" x="328.3" y="88.6">v5.3: Occultations from 2026-01-22</text>
<text class="t" x="330" y="109.5">Beta Angle = 15.7</text>
<text class="l" x="75.04" y="164.03" text-anchor="end">60°N</text>
<text class="l" x="580.96" y="164.03">60°N</text>
<text class="l" x="75.04" y="205.37" text-anchor="end">30°N</text>
<text class="l" x="580.96" y="205.37">30°N</text>
<text class="l" x="75.04" y="245.50" text-anchor="end">0°</text>
<text class="l" x="581.66" y="246.00">0°</text>
<text class="l" x="75.04" y="288.03" text-anchor="end">30°S</text>
<text class="l" x="580.96" y="288.03">30°S</text>
<text class="l" x="75.04" y="329.37" text-anchor="end">60°S</text>
<text class="l" x="580.96" y="329.37">60°S</text>
<text class="l" x="75.04" y="369.20" text-anchor="end">90°S</text>
<text class="l" x="582.06" y="370.30">90°S</text>
<text class="l e" x="79.70" y="381.9" text-anchor="middle">180°</text>
<text class="l e" x="79.70" y="381.9" text-anchor="middle">180°</text>
<text class="l" x="162.67" y="381.9" text-anchor="middle">120°W</text>
<text class="l" x="245.33" y="381.9" text-anchor="middle">60°W</text>
<text class="l" x="328.80" y="381.9" text-anchor="middle">0°</text>
<text class="l" x="410.67" y="381.9" text-anchor="middle">60°E</text>
<text class="l" x="493.33" y="381.9" text-anchor="middle">120°E</text>
<text class="l e" x="574.80" y="381.9" text-anchor="middle">180°</text>
<text class="l e" x="574.80" y="381.9" text-anchor="middle">180°</text>
<rect x="236" y="404" width="9.2" height="9.2" rx="0.8" fill="#008000"/>
<text class="l g" x="266.2" y="413">Sunrise</text>
<rect x="354" y="404" width="9.2" height="9.2" rx="0.8" fill="#ff0000"/>
<text class="l g" x="384.5" y="413">Sunset</text>
</svg></body></html>
